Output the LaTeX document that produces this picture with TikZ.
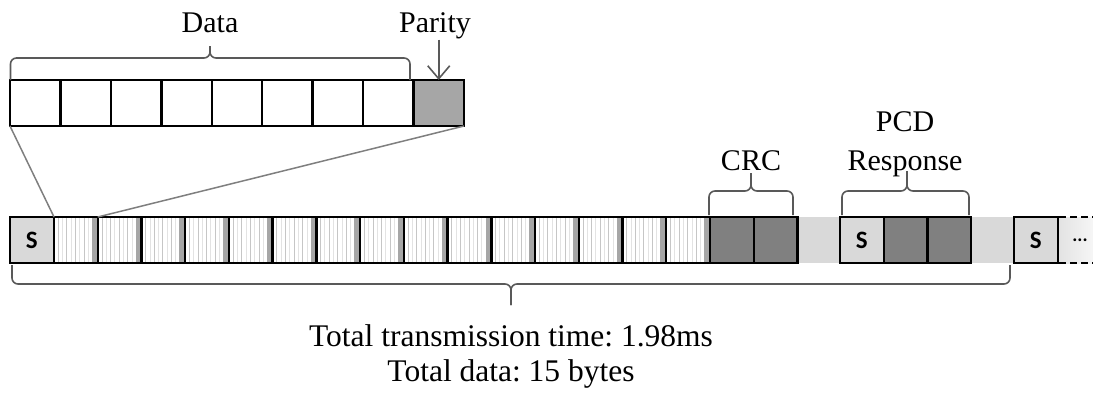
\documentclass[tikz,border=0pt]{standalone}
\usepackage{fontspec}
\setmainfont{Liberation Serif}
\newfontfamily\sbold{Carlito Bold}
\usetikzlibrary{arrows.meta,calc}
\definecolor{bandgray}{HTML}{D9D9D9}
\definecolor{pargray}{HTML}{A6A6A6}
\definecolor{crcgray}{HTML}{808080}
\definecolor{bracegray}{HTML}{595959}
\definecolor{zoomgray}{HTML}{7F7F7F}
\frenchspacing
\begin{document}
\begin{tikzpicture}[x=1pt,y=-1pt,
  topcell/.style={draw=black, line width=2.4pt, fill=white, minimum width=50.44pt, minimum height=46pt, inner sep=0pt, outer sep=0pt, anchor=north west},
  bytecell/.style={draw=black, line width=2.4pt, fill=white, minimum width=43.73pt, minimum height=46pt, inner sep=0pt, outer sep=0pt, anchor=north west},
  crccell/.style={bytecell, fill=crcgray},
  scell/.style={bytecell, fill=bandgray, font=\sbold\fontsize{25}{25}\selectfont},
  lbl/.style={font=\fontsize{30}{30}\selectfont, inner sep=0pt, anchor=base},
  bigl/.style={font=\fontsize{31.5}{31.5}\selectfont, inner sep=0pt, anchor=base},
  bracestyle/.style={draw=bracegray, line width=1.6pt, rounded corners=6pt},
  zoomline/.style={draw=zoomgray, line width=1.5pt},
]
\useasboundingbox (0,0) rectangle (1093,394);

% background band
\fill[bandgray] (797,217) rectangle (1013,263);

% top row
\foreach \i in {1,...,8}{
  \pgfmathsetmacro{\xx}{10+(\i-1)*50.44}
  \node[topcell] (t\i) at (\xx,80) {};
}
\node[topcell, fill=pargray] (t9) at (10+8*50.44,80) {};

% bottom row: start bit
\node[scell] (s0) at (10,217) {S};

% data bytes
\foreach \i in {1,...,15}{
  \pgfmathsetmacro{\xx}{54+(\i-1)*43.73}
  \node[bytecell] (b\i) at (\xx,217) {};
  \fill[pargray] (\xx+38,218.3) rectangle (\xx+42.5,261.7);
  \foreach \k in {1,...,8}{
    \pgfmathsetmacro{\lx}{\xx+\k*4.3}
    \pgfmathtruncatemacro{\odd}{mod(\k,2)}
    \ifnum\odd=1
      \draw[gray!45, line width=1pt] (\lx,218.3) -- (\lx,261.7);
    \else
      \draw[gray!22, line width=1pt] (\lx,218.3) -- (\lx,261.7);
    \fi
  }
  \draw[black, line width=2.4pt] (b\i.north west) rectangle (b\i.south east);
}

% CRC
\node[crccell] (c1) at (710,217) {};
\node[crccell] (c2) at (753.7,217) {};

% PCD response
\node[scell] (p0) at (840,217) {S};
\node[crccell] (p1) at (883.7,217) {};
\node[crccell] (p2) at (927.4,217) {};

% next frame
\node[scell] (n0) at (1014,217) {S};
\shade[left color=gray!22, right color=white] (1059,217) rectangle (1110,263);
\draw[black, line width=2.4pt, dash pattern=on 7pt off 4pt] (1059,217) -- (1110,217) (1059,263) -- (1110,263);
\draw[black, line width=2.4pt] (n0.north east) -- (n0.south east);
\node[font=\sbold\fontsize{19}{19}\selectfont, inner sep=0pt] (dots) at (1080,240) {...};

% zoom lines
\draw[zoomline] (t1.south west) -- (b1.north west);
\draw[zoomline] (t9.south east) -- (b1.north east);

% labels
\node[lbl] (data) at (210,32) {Data};
\node[lbl] (parity) at (435,32) {Parity};
\node[lbl] (crc) at (751,170) {CRC};
\node[lbl] (pcd) at (905,131) {PCD};
\node[lbl] (resp) at (905,170) {Response};
\node[bigl] (tot1) at (511,346) {Total transmission time: 1.98ms};
\node[bigl] (tot2) at (511,381) {Total data: 15 bytes};

% parity arrow
\draw[draw=bracegray, line width=1.6pt, -{Straight Barb[length=13pt,width=22pt,line width=1.6pt]}] (t9.north |- parity.south) ++(0,1) -- (t9.north);

% braces
\draw[bracestyle] (10.5,80) -- (10.5,58) -- (210,58) -- (210,46);
\draw[bracestyle] (410,80) -- (410,58) -- (210,58) -- (210,46);

\draw[bracestyle] (709,215) -- (709,191) -- (751,191) -- (751,173);
\draw[bracestyle] (793,215) -- (793,191) -- (751,191) -- (751,173);

\draw[bracestyle] (842,215) -- (842,191) -- (907,191) -- (907,171);
\draw[bracestyle] (969,215) -- (969,191) -- (907,191) -- (907,171);

\draw[bracestyle] (12,265) -- (12,284) -- (511,284) -- (511,305);
\draw[bracestyle] (1010,265) -- (1010,284) -- (511,284) -- (511,305);
\end{tikzpicture}
\end{document}
